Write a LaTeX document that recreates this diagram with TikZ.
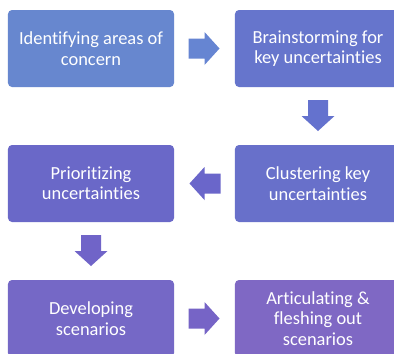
\documentclass[tikz,border=0pt]{standalone}
\usepackage{fontspec}
\setmainfont{Carlito}[Ligatures=NoCommon]
\usetikzlibrary{calc}
\definecolor{cA}{HTML}{6787CF}
\definecolor{cB}{HTML}{6675CC}
\definecolor{cC}{HTML}{6870CA}
\definecolor{cD}{HTML}{6A68C8}
\definecolor{cE}{HTML}{7568C6}
\definecolor{cF}{HTML}{7F68C4}
\definecolor{aA}{HTML}{6685D2}
\definecolor{aB}{HTML}{6472CE}
\definecolor{aC}{HTML}{6A66CA}
\definecolor{aD}{HTML}{7064C8}
\definecolor{aE}{HTML}{7664C6}
\tikzset{
  stepbox/.style={draw=none, rounded corners=4bp, minimum width=166bp, minimum height=77bp,
    inner sep=0pt, align=center, text=white,
    font=\fontsize{18.5}{20.5}\selectfont},
  blockarrow/.pic={\path[pic actions] (-16,-10) -- (0,-10) -- (0,-16.5) -- (15,0) -- (0,16.5) -- (0,10) -- (-16,10) -- cycle;}
}
\begin{document}
\begin{tikzpicture}[x=1bp,y=-1bp]
\clip (0,0) rectangle (394,354);
\fill[white] (0,0) rectangle (394,354);
\node[stepbox, fill=cA] (b1) at (91,48.5) {Identifying areas of\\concern};
\node[stepbox, fill=cB] (b2) at (318,48.5) {Brainstorming for\\key uncertainties};
\node[stepbox, fill=cC] (b4) at (318,183.5) {Clustering key\\uncertainties};
\node[stepbox, fill=cD] (b3) at (91,183.5) {Prioritizing\\uncertainties};
\node[stepbox, fill=cE] (b5) at (91,318.5) {Developing\\scenarios};
\node[stepbox, fill=cF] (b6) at (318,318.5) {Articulating \&\\fleshing out\\scenarios};
\pic[fill=aA] at ($(b1.east)!0.5!(b2.west)$) {blockarrow};
\pic[fill=aB, rotate=-90] at ($(b2.south)!0.5!(b4.north)$) {blockarrow};
\pic[fill=aC, rotate=180] at ($(b4.west)!0.5!(b3.east)$) {blockarrow};
\pic[fill=aD, rotate=-90] at ($(b3.south)!0.5!(b5.north)$) {blockarrow};
\pic[fill=aE] at ($(b5.east)!0.5!(b6.west)$) {blockarrow};
\end{tikzpicture}
\end{document}
